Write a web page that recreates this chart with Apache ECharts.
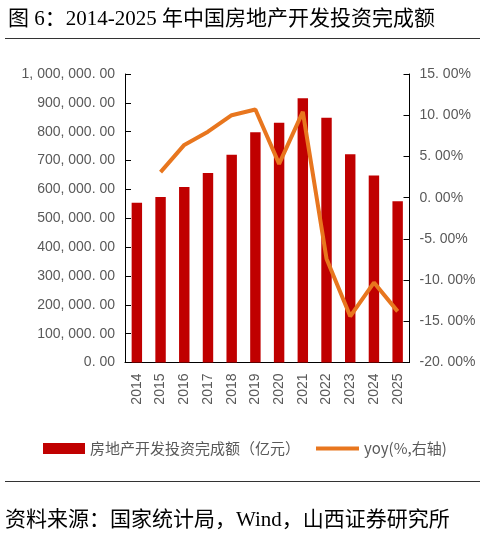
<!DOCTYPE html>
<html>
<head>
<meta charset="utf-8">
<script src="https://cdn.jsdelivr.net/npm/echarts@6/dist/echarts.min.js"></script>
<style>
    html, body {margin: 0; padding: 0; background: #fff;}
    #chart {width: 498px; height: 537px;}
</style>
</head>
<body>
<div id="chart"></div>
<script>
    // 年份
    const years = ['2014', '2015', '2016', '2017', '2018', '2019', '2020', '2021', '2022', '2023', '2024', '2025'];
    // 房地产开发投资完成额（亿元）
    const investAmount = [554000, 574000, 608000, 657000, 720000, 798000, 831000, 916000, 848000, 722000, 648000, 559000];
    // yoy (%)
    const yoyRate = [null, 3.1, 6.4, 8.0, 10.0, 10.7, 4.1, 10.4, -7.4, -14.4, -10.3, -13.8];

    const titleText = '图 6：2014-2025 年中国房地产开发投资完成额';
    const sourceText = '资料来源：国家统计局，Wind，山西证券研究所';
    const barName = '房地产开发投资完成额（亿元）';
    const lineName = 'yoy(%,右轴)';

    const grey = '#595959';
    const axisFont = 'Arial, "Liberation Sans", "Noto Sans CJK SC"';
    const serifFont = '"Liberation Serif", "Noto Sans CJK SC"';

    // 数字格式：1, 000, 000. 00
    const fmtLeft = function (v) {
        const s = Number(v).toFixed(2);
        const parts = s.split('.');
        const intPart = parts[0].replace(/\B(?=(\d{3})+(?!\d))/g, ', ');
        return intPart + '. ' + parts[1];
    };
    const fmtRight = function (v) {
        return Number(v).toFixed(2).replace('.', '. ') + '%';
    };

    const chart = echarts.init(document.getElementById('chart'), null, {renderer: 'canvas'});

    const option = {
        animation: false,
        backgroundColor: '#fff',
        title: {
            text: titleText,
            left: 3,
            top: 4,
            textStyle: {
                fontSize: 21,
                fontWeight: 'normal',
                color: '#000',
                fontFamily: serifFont
            }
        },
        graphic: [
            {
                type: 'line',
                shape: {x1: 5, y1: 38.5, x2: 480, y2: 38.5},
                style: {stroke: '#333', lineWidth: 1}
            },
            {
                type: 'line',
                shape: {x1: 5, y1: 481.5, x2: 480, y2: 481.5},
                style: {stroke: '#333', lineWidth: 1}
            },
            {
                type: 'text',
                left: 5,
                top: 510,
                style: {
                    text: sourceText,
                    fontSize: 21,
                    fill: '#000',
                    fontFamily: serifFont
                }
            }
        ],
        legend: [
            {
                data: [{name: barName, icon: 'rect'}],
                left: 38,
                top: 436,
                itemWidth: 42,
                itemHeight: 11,
                itemGap: 6,
                textStyle: {fontSize: 15, color: grey, fontFamily: '"Noto Sans CJK SC"'}
            },
            {
                data: [{name: lineName, icon: 'rect'}],
                left: 311,
                top: 436,
                itemWidth: 43,
                itemHeight: 4,
                textStyle: {fontSize: 15, color: grey, fontFamily: '"Noto Sans CJK SC"'}
            }
        ],
        grid: {
            left: 125,
            right: 88.5,
            top: 74,
            bottom: 174.5
        },
        xAxis: {
            type: 'category',
            data: years,
            axisLine: {lineStyle: {color: '#000', width: 1}},
            axisTick: {inside: true, length: 6, lineStyle: {color: '#000'}},
            axisLabel: {
                rotate: 90,
                fontSize: 14,
                color: grey,
                margin: 11,
                fontFamily: axisFont
            }
        },
        yAxis: [
            {
                type: 'value',
                min: 0,
                max: 1000000,
                interval: 100000,
                axisLine: {show: true, lineStyle: {color: '#000', width: 1}},
                axisTick: {show: true, inside: true, length: 6, lineStyle: {color: '#000'}},
                splitLine: {show: false},
                axisLabel: {
                    formatter: fmtLeft,
                    fontSize: 14,
                    color: grey,
                    margin: 10,
                    fontFamily: axisFont
                }
            },
            {
                type: 'value',
                min: -20,
                max: 15,
                interval: 5,
                position: 'right',
                axisLine: {show: true, lineStyle: {color: '#000', width: 1}},
                axisTick: {show: true, inside: true, length: 6, lineStyle: {color: '#000'}},
                splitLine: {show: false},
                axisLabel: {
                    formatter: fmtRight,
                    fontSize: 14,
                    color: grey,
                    margin: 10,
                    fontFamily: axisFont
                }
            }
        ],
        series: [
            {
                name: barName,
                type: 'bar',
                data: investAmount,
                barWidth: '44%',
                itemStyle: {color: '#C00000'}
            },
            {
                name: lineName,
                type: 'line',
                yAxisIndex: 1,
                data: yoyRate,
                showSymbol: false,
                symbol: 'none',
                connectNulls: false,
                lineStyle: {color: '#E8761E', width: 4},
                itemStyle: {color: '#E8761E'}
            }
        ]
    };

    chart.setOption(option);
</script>
</body>
</html>
